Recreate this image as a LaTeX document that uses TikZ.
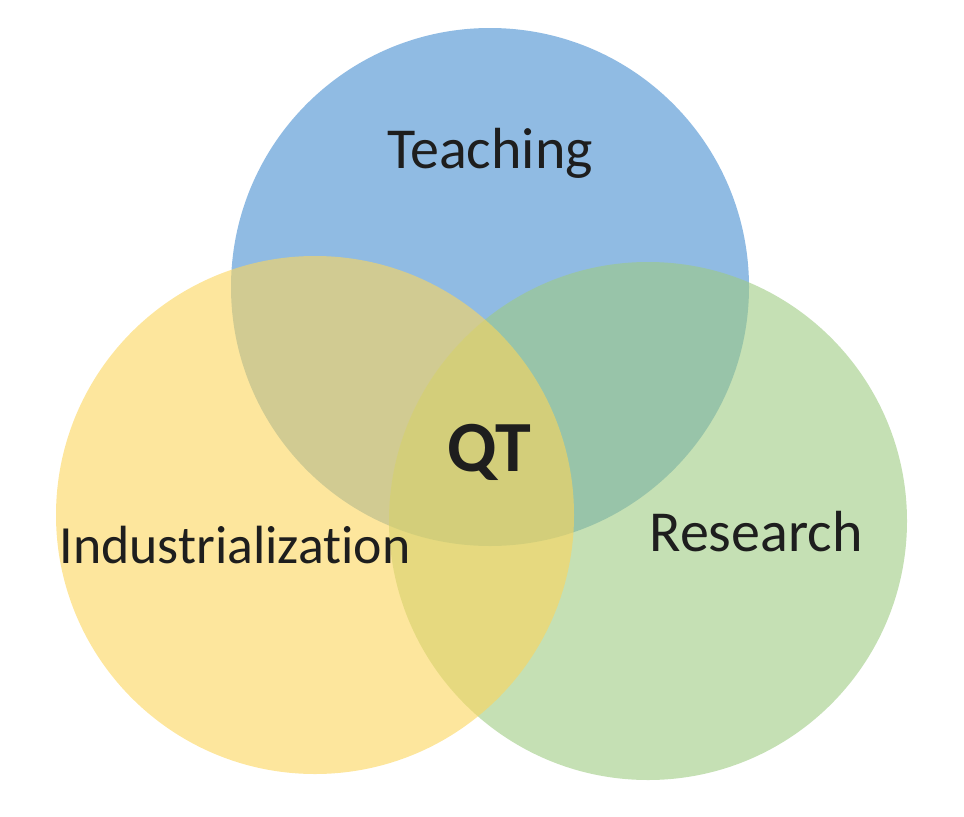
\documentclass[tikz,border=0pt]{standalone}
\usepackage{fontspec}
\setmainfont{Carlito}[Ligatures=NoCommon]
\usepackage{xcolor}
\usepackage{tikz}

\definecolor{teachblue}{RGB}{70,142,208}
\definecolor{resgreen}{RGB}{158,203,130}
\definecolor{indyellow}{RGB}{252,214,92}
\definecolor{labelgray}{RGB}{30,30,30}

\tikzset{
  venn/.style={fill=#1, fill opacity=0.6, draw=none},
  lbl/.style={anchor=base, text=labelgray, font=\fontsize{16.5}{20}\selectfont},
  core/.style={anchor=base, text=labelgray, font=\fontsize{20.5}{24}\selectfont\bfseries}
}

\begin{document}
\begin{tikzpicture}
\useasboundingbox (0,0) rectangle (9.64,8.16);
\fill[venn=teachblue] (4.90,5.29) circle (2.59cm);
\fill[venn=resgreen] (6.48,2.95) circle (2.59cm);
\fill[venn=indyellow] (3.15,3.01) circle (2.59cm);
\node[lbl] (teaching) at (4.90,6.48) {Teaching};
\node[lbl, font=\fontsize{15.3}{18}\selectfont] (industry) at (2.35,2.53) {Industrialization};
\node[lbl] (research) at (7.56,2.65) {Research};
\node[core] (qt) at (4.895,3.45) {QT};
\end{tikzpicture}
\end{document}
